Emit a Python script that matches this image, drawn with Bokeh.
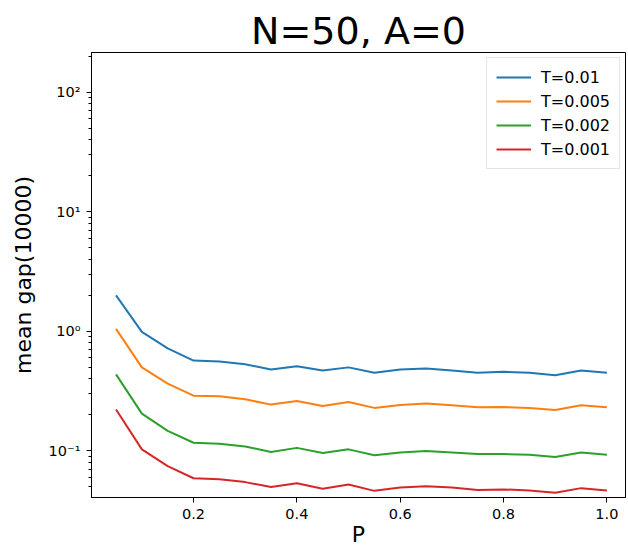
from bokeh.plotting import figure
from bokeh.models import Range1d, FixedTicker, PrintfTickFormatter, CustomJSTickFormatter, Legend, LegendItem
from bokeh.embed import file_html
from bokeh.resources import INLINE

# ---- data ----
P = [0.05, 0.10, 0.15, 0.20, 0.25, 0.30, 0.35, 0.40, 0.45, 0.50,
     0.55, 0.60, 0.65, 0.70, 0.75, 0.80, 0.85, 0.90, 0.95, 1.00]
T_001 = [2.0, 0.99, 0.72, 0.57, 0.56, 0.53, 0.48, 0.51, 0.47, 0.50,
         0.45, 0.48, 0.49, 0.47, 0.45, 0.46, 0.45, 0.43, 0.47, 0.45]
T_0005 = [1.05, 0.50, 0.366, 0.29, 0.286, 0.27, 0.244, 0.262, 0.238, 0.257,
          0.229, 0.242, 0.249, 0.241, 0.232, 0.233, 0.229, 0.22, 0.241, 0.232]
T_0002 = [0.437, 0.205, 0.147, 0.117, 0.115, 0.109, 0.098, 0.106, 0.096, 0.103,
          0.092, 0.097, 0.100, 0.097, 0.094, 0.094, 0.093, 0.089, 0.097, 0.093]
T_0001 = [0.222, 0.103, 0.0745, 0.059, 0.058, 0.0548, 0.0498, 0.0537, 0.0482, 0.0524,
          0.0463, 0.0494, 0.0507, 0.0494, 0.047, 0.0476, 0.0467, 0.0446, 0.0488, 0.0467]
series_labels = ["T=0.01", "T=0.005", "T=0.002", "T=0.001"]
series = [T_001, T_0005, T_0002, T_0001]
colors = ["#1f77b4", "#ff7f0e", "#2ca02c", "#d62728"]
x_ticks = [0.2, 0.4, 0.6, 0.8, 1.0]
y_ticks = [0.1, 1, 10, 100]

FONT = "DejaVu Sans"

p = figure(width=628, height=549, y_axis_type="log",
           x_range=Range1d(0.0025, 1.036), y_range=Range1d(10 ** -1.39, 10 ** 2.334),
           output_backend="svg", toolbar_location=None,
           min_border_left=91, min_border_right=3, min_border_top=52, min_border_bottom=51)

p.title.text = "N=50, A=0"
p.title.align = "center"
p.title.text_font = FONT
p.title.text_font_size = "38px"
p.title.text_font_style = "normal"
p.title.text_color = "#000000"
p.title.standoff = 0

p.outline_line_color = "#000000"
p.outline_line_width = 1
p.grid.grid_line_color = None
p.background_fill_color = "white"
p.border_fill_color = "white"

renderers = []
for ys, c in zip(series, colors):
    r = p.line(P, ys, line_color=c, line_width=2)
    renderers.append(r)

minor = [m * 10.0 ** e for e in range(-2, 3) for m in range(2, 10)]
p.xaxis.ticker = FixedTicker(ticks=x_ticks)
p.xaxis.formatter = PrintfTickFormatter(format="%.1f")
p.yaxis.ticker = FixedTicker(ticks=y_ticks, minor_ticks=minor)
p.yaxis.formatter = CustomJSTickFormatter(code="""
const sup = {'-':'\u207b','0':'\u2070','1':'\u00b9','2':'\u00b2','3':'\u00b3','4':'\u2074','5':'\u2075','6':'\u2076','7':'\u2077','8':'\u2078','9':'\u2079'};
const e = String(Math.round(Math.log10(tick)));
let s = '';
for (const ch of e) s += sup[ch];
return '10' + s;
""")

for ax in (p.xaxis, p.yaxis):
    ax.axis_line_color = "#000000"
    ax.major_tick_line_color = "#000000"
    ax.minor_tick_line_color = "#000000"
    ax.major_tick_in = 0
    ax.major_tick_out = 5
    ax.minor_tick_in = 0
    ax.minor_tick_out = 3
    ax.major_label_text_font = FONT
    ax.major_label_text_font_size = "14.5px"
    ax.major_label_text_color = "#000000"
    ax.axis_label_text_font = FONT
    ax.axis_label_text_font_size = "22px"
    ax.axis_label_text_font_style = "normal"
    ax.axis_label_text_color = "#000000"
p.xaxis.minor_tick_line_color = None
p.xaxis.axis_label = "P"
p.yaxis.axis_label = "mean gap(10000)"
p.xaxis.axis_label_standoff = 0
p.yaxis.axis_label_standoff = 10
p.xaxis.major_label_standoff = 6
p.yaxis.major_label_standoff = 6

legend = Legend(items=[LegendItem(label=l, renderers=[r]) for l, r in zip(series_labels, renderers)],
                location="top_right")
legend.label_text_font = FONT
legend.label_text_font_size = "16px"
legend.label_text_color = "#000000"
legend.border_line_color = "#cccccc"
legend.border_line_width = 1
legend.background_fill_alpha = 0.8
legend.margin = 5
legend.padding = 9
legend.spacing = 4
legend.glyph_width = 35
legend.glyph_height = 20
legend.label_height = 20
legend.label_standoff = 10
p.add_layout(legend)

open("out.html", "w").write(file_html(p, INLINE))
